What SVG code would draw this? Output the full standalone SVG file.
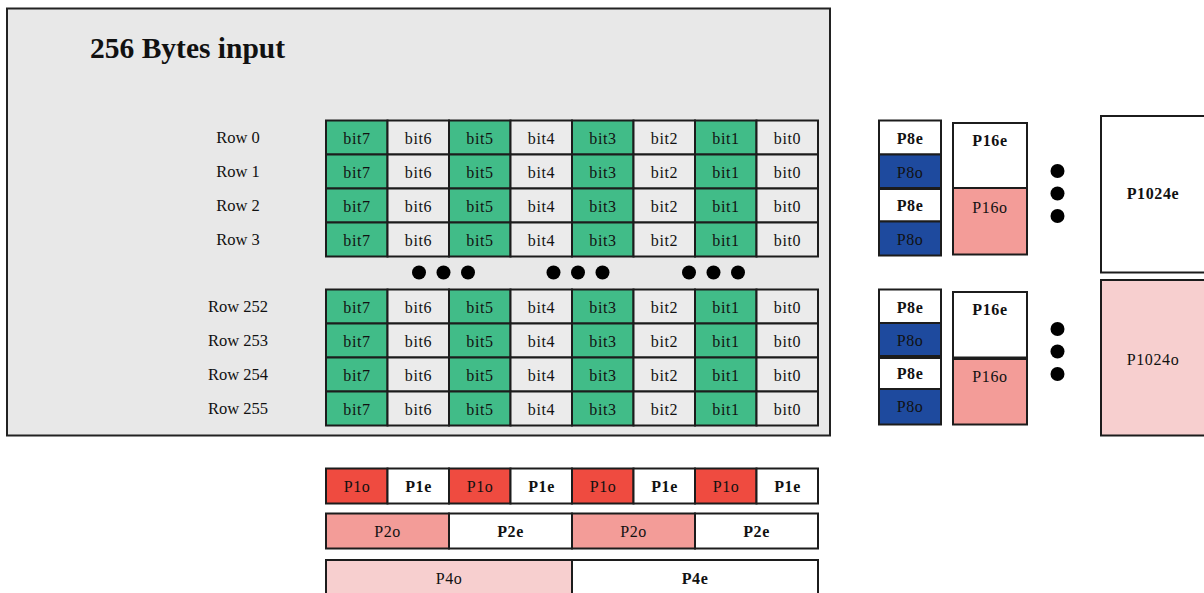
<svg xmlns="http://www.w3.org/2000/svg" width="1204" height="593" viewBox="0 0 1204 593">
<style>
text{font-family:"Liberation Serif","Times New Roman",serif;fill:#111;}
.c rect{stroke:#1c1c1c;stroke-width:2;}
.g{fill:#41bc88;}
.w{fill:#ebebeb;}
.wh{fill:#ffffff;}
.bl{fill:#1e4a9e;}
.rd{fill:#ef4b40;}
.sa{fill:#f39c98;}
.pk{fill:#f7cfcf;}
.t{font-size:16px;text-anchor:middle;letter-spacing:0.6px;}
.b{font-weight:bold;}
.r{font-size:16.5px;text-anchor:middle;}
.d{fill:#000;}
</style>
<defs>
<g id="dot3h"><circle cx="0" cy="0" r="7" class="d"/><circle cx="24.5" cy="0" r="7" class="d"/><circle cx="49" cy="0" r="7" class="d"/></g>
<g id="dot3v"><circle cx="0" cy="0" r="7" class="d"/><circle cx="0" cy="22.5" r="7" class="d"/><circle cx="0" cy="45" r="7" class="d"/></g>
</defs>
<g id="input-frame">
<rect x="7" y="8.5" width="823" height="427" fill="#e8e8e8" stroke="#222" stroke-width="2"/>
<text x="90" y="58" font-size="29.5" font-weight="bold">256 Bytes input</text>
</g>
<g id="row-labels">
<text class="r" x="238" y="143">Row 0</text>
<text class="r" x="238" y="177">Row 1</text>
<text class="r" x="238" y="211">Row 2</text>
<text class="r" x="238" y="245">Row 3</text>
<text class="r" x="238" y="312">Row 252</text>
<text class="r" x="238" y="346">Row 253</text>
<text class="r" x="238" y="380">Row 254</text>
<text class="r" x="238" y="414">Row 255</text>
</g>
<g id="row0" class="c">
<rect class="g" x="326" y="120.5" width="61.5" height="34"/><text class="t" x="357" y="143.5">bit7</text>
<rect class="w" x="387.5" y="120.5" width="61.5" height="34"/><text class="t" x="418.5" y="143.5">bit6</text>
<rect class="g" x="449" y="120.5" width="61.5" height="34"/><text class="t" x="480" y="143.5">bit5</text>
<rect class="w" x="510.5" y="120.5" width="61.5" height="34"/><text class="t" x="541.5" y="143.5">bit4</text>
<rect class="g" x="572" y="120.5" width="61.5" height="34"/><text class="t" x="603" y="143.5">bit3</text>
<rect class="w" x="633.5" y="120.5" width="61.5" height="34"/><text class="t" x="664.5" y="143.5">bit2</text>
<rect class="g" x="695" y="120.5" width="61.5" height="34"/><text class="t" x="726" y="143.5">bit1</text>
<rect class="w" x="756.5" y="120.5" width="61.5" height="34"/><text class="t" x="787.5" y="143.5">bit0</text>
</g>
<g id="row1" class="c">
<rect class="g" x="326" y="154.5" width="61.5" height="34"/><text class="t" x="357" y="177.5">bit7</text>
<rect class="w" x="387.5" y="154.5" width="61.5" height="34"/><text class="t" x="418.5" y="177.5">bit6</text>
<rect class="g" x="449" y="154.5" width="61.5" height="34"/><text class="t" x="480" y="177.5">bit5</text>
<rect class="w" x="510.5" y="154.5" width="61.5" height="34"/><text class="t" x="541.5" y="177.5">bit4</text>
<rect class="g" x="572" y="154.5" width="61.5" height="34"/><text class="t" x="603" y="177.5">bit3</text>
<rect class="w" x="633.5" y="154.5" width="61.5" height="34"/><text class="t" x="664.5" y="177.5">bit2</text>
<rect class="g" x="695" y="154.5" width="61.5" height="34"/><text class="t" x="726" y="177.5">bit1</text>
<rect class="w" x="756.5" y="154.5" width="61.5" height="34"/><text class="t" x="787.5" y="177.5">bit0</text>
</g>
<g id="row2" class="c">
<rect class="g" x="326" y="188.5" width="61.5" height="34"/><text class="t" x="357" y="211.5">bit7</text>
<rect class="w" x="387.5" y="188.5" width="61.5" height="34"/><text class="t" x="418.5" y="211.5">bit6</text>
<rect class="g" x="449" y="188.5" width="61.5" height="34"/><text class="t" x="480" y="211.5">bit5</text>
<rect class="w" x="510.5" y="188.5" width="61.5" height="34"/><text class="t" x="541.5" y="211.5">bit4</text>
<rect class="g" x="572" y="188.5" width="61.5" height="34"/><text class="t" x="603" y="211.5">bit3</text>
<rect class="w" x="633.5" y="188.5" width="61.5" height="34"/><text class="t" x="664.5" y="211.5">bit2</text>
<rect class="g" x="695" y="188.5" width="61.5" height="34"/><text class="t" x="726" y="211.5">bit1</text>
<rect class="w" x="756.5" y="188.5" width="61.5" height="34"/><text class="t" x="787.5" y="211.5">bit0</text>
</g>
<g id="row3" class="c">
<rect class="g" x="326" y="222.5" width="61.5" height="34"/><text class="t" x="357" y="245.5">bit7</text>
<rect class="w" x="387.5" y="222.5" width="61.5" height="34"/><text class="t" x="418.5" y="245.5">bit6</text>
<rect class="g" x="449" y="222.5" width="61.5" height="34"/><text class="t" x="480" y="245.5">bit5</text>
<rect class="w" x="510.5" y="222.5" width="61.5" height="34"/><text class="t" x="541.5" y="245.5">bit4</text>
<rect class="g" x="572" y="222.5" width="61.5" height="34"/><text class="t" x="603" y="245.5">bit3</text>
<rect class="w" x="633.5" y="222.5" width="61.5" height="34"/><text class="t" x="664.5" y="245.5">bit2</text>
<rect class="g" x="695" y="222.5" width="61.5" height="34"/><text class="t" x="726" y="245.5">bit1</text>
<rect class="w" x="756.5" y="222.5" width="61.5" height="34"/><text class="t" x="787.5" y="245.5">bit0</text>
</g>
<g id="grid-ellipsis">
<use href="#dot3h" x="419" y="272.5"/>
<use href="#dot3h" x="553.5" y="272.5"/>
<use href="#dot3h" x="689" y="272.5"/>
</g>
<g id="row252" class="c">
<rect class="g" x="326" y="289.5" width="61.5" height="34"/><text class="t" x="357" y="312.5">bit7</text>
<rect class="w" x="387.5" y="289.5" width="61.5" height="34"/><text class="t" x="418.5" y="312.5">bit6</text>
<rect class="g" x="449" y="289.5" width="61.5" height="34"/><text class="t" x="480" y="312.5">bit5</text>
<rect class="w" x="510.5" y="289.5" width="61.5" height="34"/><text class="t" x="541.5" y="312.5">bit4</text>
<rect class="g" x="572" y="289.5" width="61.5" height="34"/><text class="t" x="603" y="312.5">bit3</text>
<rect class="w" x="633.5" y="289.5" width="61.5" height="34"/><text class="t" x="664.5" y="312.5">bit2</text>
<rect class="g" x="695" y="289.5" width="61.5" height="34"/><text class="t" x="726" y="312.5">bit1</text>
<rect class="w" x="756.5" y="289.5" width="61.5" height="34"/><text class="t" x="787.5" y="312.5">bit0</text>
</g>
<g id="row253" class="c">
<rect class="g" x="326" y="323.5" width="61.5" height="34"/><text class="t" x="357" y="346.5">bit7</text>
<rect class="w" x="387.5" y="323.5" width="61.5" height="34"/><text class="t" x="418.5" y="346.5">bit6</text>
<rect class="g" x="449" y="323.5" width="61.5" height="34"/><text class="t" x="480" y="346.5">bit5</text>
<rect class="w" x="510.5" y="323.5" width="61.5" height="34"/><text class="t" x="541.5" y="346.5">bit4</text>
<rect class="g" x="572" y="323.5" width="61.5" height="34"/><text class="t" x="603" y="346.5">bit3</text>
<rect class="w" x="633.5" y="323.5" width="61.5" height="34"/><text class="t" x="664.5" y="346.5">bit2</text>
<rect class="g" x="695" y="323.5" width="61.5" height="34"/><text class="t" x="726" y="346.5">bit1</text>
<rect class="w" x="756.5" y="323.5" width="61.5" height="34"/><text class="t" x="787.5" y="346.5">bit0</text>
</g>
<g id="row254" class="c">
<rect class="g" x="326" y="357.5" width="61.5" height="34"/><text class="t" x="357" y="380.5">bit7</text>
<rect class="w" x="387.5" y="357.5" width="61.5" height="34"/><text class="t" x="418.5" y="380.5">bit6</text>
<rect class="g" x="449" y="357.5" width="61.5" height="34"/><text class="t" x="480" y="380.5">bit5</text>
<rect class="w" x="510.5" y="357.5" width="61.5" height="34"/><text class="t" x="541.5" y="380.5">bit4</text>
<rect class="g" x="572" y="357.5" width="61.5" height="34"/><text class="t" x="603" y="380.5">bit3</text>
<rect class="w" x="633.5" y="357.5" width="61.5" height="34"/><text class="t" x="664.5" y="380.5">bit2</text>
<rect class="g" x="695" y="357.5" width="61.5" height="34"/><text class="t" x="726" y="380.5">bit1</text>
<rect class="w" x="756.5" y="357.5" width="61.5" height="34"/><text class="t" x="787.5" y="380.5">bit0</text>
</g>
<g id="row255" class="c">
<rect class="g" x="326" y="391.5" width="61.5" height="34"/><text class="t" x="357" y="414.5">bit7</text>
<rect class="w" x="387.5" y="391.5" width="61.5" height="34"/><text class="t" x="418.5" y="414.5">bit6</text>
<rect class="g" x="449" y="391.5" width="61.5" height="34"/><text class="t" x="480" y="414.5">bit5</text>
<rect class="w" x="510.5" y="391.5" width="61.5" height="34"/><text class="t" x="541.5" y="414.5">bit4</text>
<rect class="g" x="572" y="391.5" width="61.5" height="34"/><text class="t" x="603" y="414.5">bit3</text>
<rect class="w" x="633.5" y="391.5" width="61.5" height="34"/><text class="t" x="664.5" y="414.5">bit2</text>
<rect class="g" x="695" y="391.5" width="61.5" height="34"/><text class="t" x="726" y="414.5">bit1</text>
<rect class="w" x="756.5" y="391.5" width="61.5" height="34"/><text class="t" x="787.5" y="414.5">bit0</text>
</g>
<g id="p1-row" class="c">
<rect class="rd" x="326" y="468.5" width="61.5" height="35"/><text class="t" x="357" y="492">P1o</text>
<rect class="wh" x="387.5" y="468.5" width="61.5" height="35"/><text class="t b" x="418.5" y="492">P1e</text>
<rect class="rd" x="449" y="468.5" width="61.5" height="35"/><text class="t" x="480" y="492">P1o</text>
<rect class="wh" x="510.5" y="468.5" width="61.5" height="35"/><text class="t b" x="541.5" y="492">P1e</text>
<rect class="rd" x="572" y="468.5" width="61.5" height="35"/><text class="t" x="603" y="492">P1o</text>
<rect class="wh" x="633.5" y="468.5" width="61.5" height="35"/><text class="t b" x="664.5" y="492">P1e</text>
<rect class="rd" x="695" y="468.5" width="61.5" height="35"/><text class="t" x="726" y="492">P1o</text>
<rect class="wh" x="756.5" y="468.5" width="61.5" height="35"/><text class="t b" x="787.5" y="492">P1e</text>
</g>
<g id="p2-row" class="c">
<rect class="sa" x="326" y="513.5" width="123" height="35"/><text class="t" x="387.5" y="537">P2o</text>
<rect class="wh" x="449" y="513.5" width="123" height="35"/><text class="t b" x="510.5" y="537">P2e</text>
<rect class="sa" x="572" y="513.5" width="123" height="35"/><text class="t" x="633.5" y="537">P2o</text>
<rect class="wh" x="695" y="513.5" width="123" height="35"/><text class="t b" x="756.5" y="537">P2e</text>
</g>
<g id="p4-row" class="c">
<rect class="pk" x="326" y="560" width="246" height="50"/><text class="t" x="449" y="584">P4o</text>
<rect class="wh" x="572" y="560" width="246" height="50"/><text class="t b" x="695" y="584">P4e</text>
</g>
<g id="p8-top" class="c">
<rect class="wh" x="879" y="120.5" width="62" height="34"/><text class="t b" x="910" y="143.5">P8e</text>
<rect class="bl" x="879" y="154.5" width="62" height="33.5"/><text class="t" x="910" y="177.5">P8o</text>
<rect class="wh" x="879" y="189" width="62" height="32.5"/><text class="t b" x="910" y="211">P8e</text>
<rect class="bl" x="879" y="221.5" width="62" height="34"/><text class="t" x="910" y="245">P8o</text>
</g>
<g id="p16-top" class="c">
<rect class="wh" x="953" y="123" width="74" height="65"/><text class="t b" x="990" y="146">P16e</text>
<rect class="sa" x="953" y="188" width="74" height="66.5"/><text class="t" x="990" y="213">P16o</text>
</g>
<g id="p8-bottom" class="c">
<rect class="wh" x="879" y="289.5" width="62" height="33.5"/><text class="t b" x="910" y="313">P8e</text>
<rect class="bl" x="879" y="323" width="62" height="33"/><text class="t" x="910" y="345.5">P8o</text>
<rect class="wh" x="879" y="358" width="62" height="31"/><text class="t b" x="910" y="379">P8e</text>
<rect class="bl" x="879" y="389" width="62" height="35.5"/><text class="t" x="910" y="411.5">P8o</text>
</g>
<g id="p16-bottom" class="c">
<rect class="wh" x="953" y="292" width="74" height="65.5"/><text class="t b" x="990" y="315">P16e</text>
<rect class="sa" x="953" y="359" width="74" height="65.5"/><text class="t" x="990" y="382">P16o</text>
</g>
<g id="right-ellipsis">
<use href="#dot3v" x="1057.5" y="171"/>
<use href="#dot3v" x="1057.5" y="329"/>
</g>
<g id="p1024e" class="c">
<rect class="wh" x="1101" y="116" width="106" height="156.5"/><text class="t b" x="1153" y="199">P1024e</text>
</g>
<g id="p1024o" class="c">
<rect class="pk" x="1101" y="280" width="106" height="155.5"/><text class="t" x="1153" y="365">P1024o</text>
</g>
<g id="connectors"/>
</svg>
